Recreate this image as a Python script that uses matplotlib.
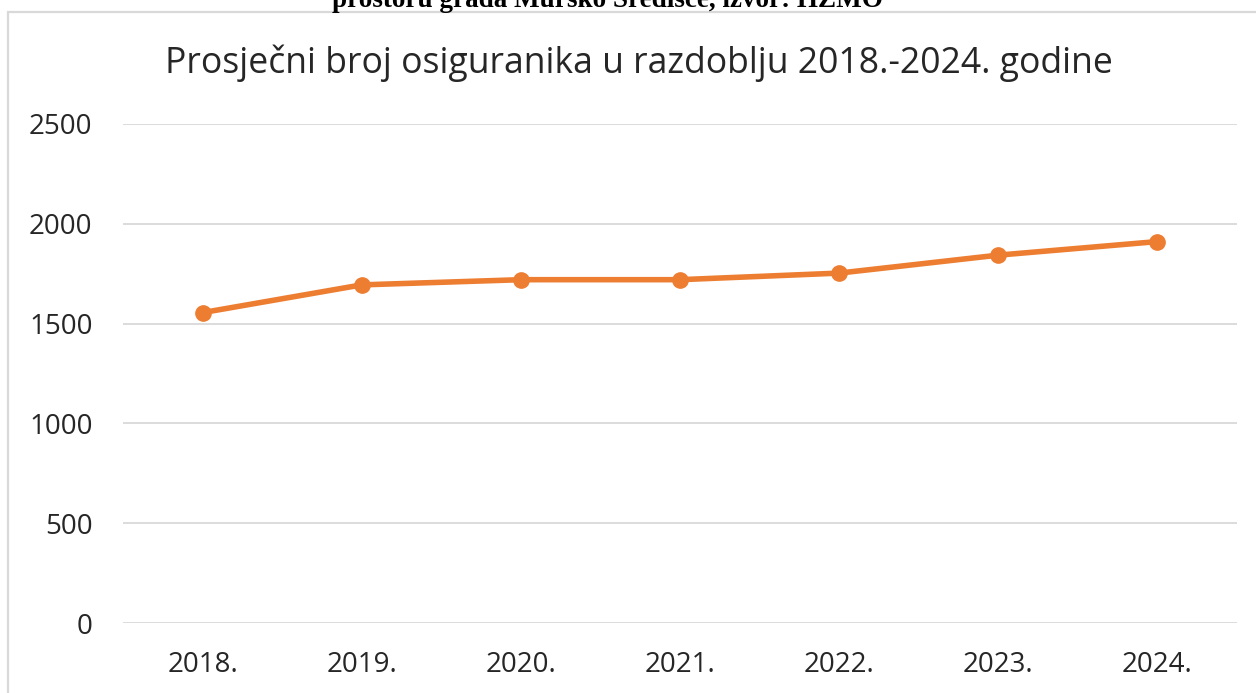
import matplotlib
matplotlib.use("Agg")
import matplotlib.pyplot as plt
from matplotlib.patches import Rectangle

# Podaci: prosjecni broj osiguranika po godinama
godine = ["2018.", "2019.", "2020.", "2021.", "2022.", "2023.", "2024."]
osiguranici = [1555, 1694, 1720, 1720, 1753, 1843, 1911]
y_ticks = [0, 500, 1000, 1500, 2000, 2500]

W, H = 1256, 693
narancasta = "#ED7D31"
siva = "#D9D9D9"

fig = plt.figure(figsize=(W / 100, H / 100), dpi=100)
fig.patch.set_facecolor("white")

# okvir grafikona (izlazi izvan slike desno i dolje)
okvir = Rectangle((8 / W, -0.1), 1.2, 1 - 12 / H + 0.1, transform=fig.transFigure,
                  fill=False, edgecolor=siva, linewidth=1.6, clip_on=False)
fig.patches.append(okvir)

# odrezani tekst iznad grafikona
fig.text(607 / W, 1 - 7 / H, "prostoru grada Mursko Središće, izvor: HZMO",
         ha="center", va="baseline", fontsize=19.5, fontweight="bold",
         family="Liberation Serif", color="black")

ax = fig.add_axes([123 / W, 70 / H, (1237 - 123) / W, (623 - 124) / H])
x = list(range(len(godine)))
ax.plot(x, osiguranici, color=narancasta, linewidth=4, marker="o",
        markersize=11, solid_capstyle="round", zorder=3)

ax.set_xlim(-0.5, len(godine) - 0.5)
ax.set_ylim(0, 2500)
ax.set_yticks(y_ticks)
ax.set_yticklabels([str(v) for v in y_ticks])
ax.set_xticks(x)
ax.set_xticklabels(godine)
ax.grid(axis="y", color=siva, linewidth=1.3)
ax.set_axisbelow(True)
for s in ax.spines.values():
    s.set_visible(False)
ax.tick_params(axis="both", length=0, labelsize=20, colors="#262626")
ax.tick_params(axis="y", pad=22)
ax.tick_params(axis="x", pad=20)
for t in ax.get_xticklabels() + ax.get_yticklabels():
    t.set_family("Open Sans")

fig.text(639 / W, 1 - 63 / H, "Prosječni broj osiguranika u razdoblju 2018.-2024. godine",
         ha="center", va="center", fontsize=25.6, family="Open Sans", color="#262626")

fig.savefig("out.png", dpi=100, facecolor="white")
